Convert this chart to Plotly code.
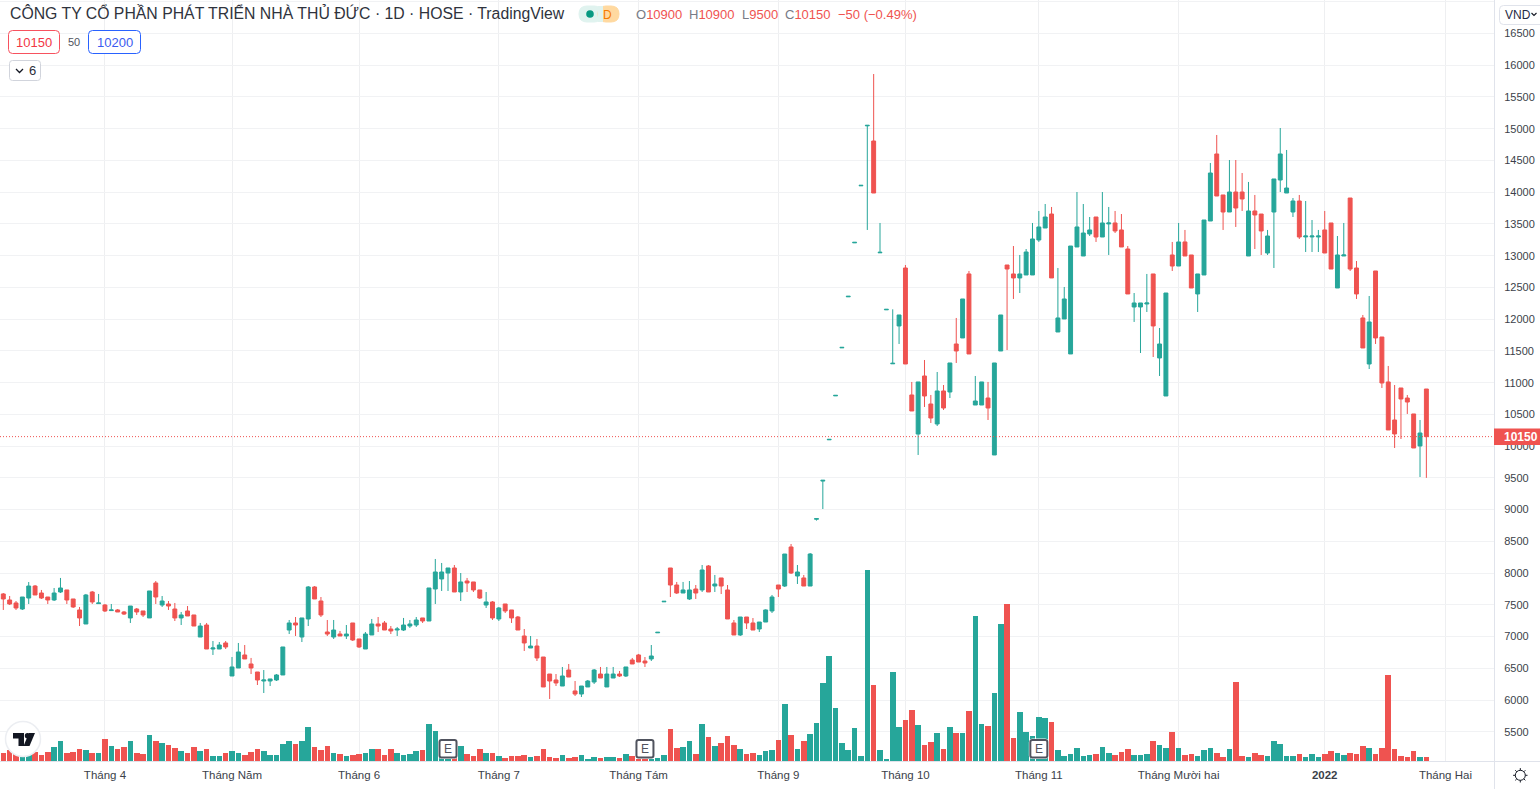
import plotly.graph_objects as go

body_top = [
7672,7577,7530,7624,7797,7797,7687,7624,7687,7766,
7735,7593,7420,7656,7703,7530,7498,7420,7420,7388,
7482,7435,7404,7719,7845,7561,7514,7435,7341,7404,
7341,7167,7183,6821,6868,6900,6522,6758,6711,6569,
6443,6317,6333,6396,6837,7215,7215,7294,7782,7782,
7561,7073,7104,7041,7041,7215,6963,7041,7199,7199,
7215,7120,7120,7183,7199,7262,7294,7766,8018,8018,
8081,8081,7861,7876,7861,7735,7546,7546,7451,7514,
7420,7309,7010,6852,6852,6679,6411,6317,6380,6474,
6144,6222,6301,6474,6411,6411,6411,6411,6522,6632,
6711,6616,6695,7068,7556,8081,7813,7735,7735,7750,
8050,8113,7829,7924,7735,7215,7309,7309,7215,7230,
7420,7624,7813,8301,8412,8018,7924,8301,8858,9462,
10107,10800,11556,12360,13210,14108,15053,14806,13053,12155,
11305,12066,12806,10806,11011,11105,10664,10869,10869,11310,
11609,12318,12712,10711,11011,10758,11310,12066,12853,12712,
12712,13058,13263,13452,13609,13656,12019,12318,13152,13452,
13357,13405,13609,13515,13515,13515,13405,13105,12255,12255,
12255,12712,11609,12412,13011,13216,13216,13011,12712,13562,
14302,14602,13956,14003,14003,14003,13704,13704,13656,13310,
14208,14602,14066,13861,13861,13310,13310,13310,13405,13515,
13011,13011,13908,12806,12019,11956,12759,11719,11011,10412,
10916,10758,10507,10207,10900]

body_bottom = [
7593,7514,7451,7435,7608,7656,7608,7577,7577,7703,
7577,7467,7294,7199,7546,7520,7404,7410,7388,7356,
7294,7388,7341,7294,7624,7498,7482,7294,7294,7325,
7167,6994,6805,6805,6805,6837,6380,6506,6648,6506,
6317,6301,6301,6317,6396,7104,7183,6994,7278,7593,
7341,7041,6994,7010,7010,6947,6837,6805,7026,7167,
7104,7089,7104,7104,7167,7183,7246,7246,7750,7908,
8002,7703,7703,7845,7735,7608,7498,7294,7278,7404,
7294,7104,6900,6821,6664,6207,6301,6270,6222,6364,
6096,6096,6207,6285,6348,6207,6348,6380,6380,6569,
6600,6585,6648,7060,7548,7813,7687,7687,7593,7687,
7735,7703,7797,7797,7278,7026,7026,7215,7104,7120,
7230,7404,7750,7797,8002,7955,7797,7797,8850,9450,
10100,10792,11548,12352,13202,14100,15045,13987,13045,12147,
11297,11893,11294,10554,10191,10790,10443,10349,10601,10853,
11499,11704,11452,10648,10648,10601,9861,11499,12790,12649,
12649,12696,12696,13247,13436,12649,11798,12003,11452,13137,
12995,13342,13294,13294,13500,13389,13137,12397,12192,12192,
12239,11893,11389,10790,12837,12837,12995,12491,12397,12696,
13546,13940,13688,13688,13751,13893,12995,13641,13389,13042,
13688,14192,13987,13688,13294,13295,13295,13295,13042,12790,
12491,12995,12790,12397,11546,11294,11704,10995,10255,10192,
10743,10695,9971,10003,10150]

highs = [
7687,7640,7561,7624,7860,7813,7735,7624,7766,7924,
7735,7593,7467,7672,7719,7672,7514,7514,7435,7404,
7482,7451,7404,7719,7876,7640,7561,7530,7388,7482,
7341,7215,7215,6931,6915,6931,6679,6900,6868,6664,
6443,6474,6333,6411,6837,7262,7309,7294,7797,7797,
7624,7262,7262,7089,7183,7215,6963,7073,7278,7309,
7246,7167,7152,7294,7262,7309,7294,7766,8223,8160,
8081,8128,8002,7924,7861,7735,7703,7561,7467,7514,
7420,7325,7120,7010,6963,6679,6411,6411,6522,6569,
6301,6222,6317,6490,6522,6522,6522,6459,6522,6664,
6727,6679,6868,7068,7556,8081,7861,7861,7876,7813,
8128,8128,7971,7924,7813,7262,7309,7309,7293,7230,
7430,7656,7813,8301,8459,8128,7971,8317,8858,9462,
10107,10800,11556,12360,13210,14108,15053,15861,13515,12155,
12155,12066,12853,11011,11011,11357,10806,11168,10963,11310,
12019,12318,12759,11105,11011,11011,11310,12066,12853,13152,
13011,13105,13515,13704,13814,13767,12806,12507,13152,14003,
13814,13609,13609,14003,13767,13704,13656,13152,12412,12255,
12712,12712,11861,12412,13216,13515,13405,13011,12712,13562,
14460,14901,13956,14507,14507,14302,14161,13956,13656,13405,
14208,15011,14665,13908,13956,13861,13562,13405,13704,13515,
13310,13515,13908,12916,12066,12365,12759,11719,11263,10963,
10916,10806,10507,10412,10900]

lows = [
7420,7498,7420,7420,7514,7656,7593,7514,7561,7687,
7514,7451,7167,7199,7514,7520,7388,7404,7388,7341,
7215,7341,7309,7294,7514,7467,7420,7246,7183,7325,
7167,6994,6805,6711,6805,6805,6380,6506,6648,6411,
6238,6112,6222,6301,6396,7041,7010,6915,7167,7593,
7309,7010,6963,7010,6963,6931,6821,6805,7026,7073,
7104,7041,7010,7089,7136,7152,7215,7246,7514,7719,
7719,7703,7561,7703,7703,7593,7451,7262,7246,7372,
7215,7104,6774,6821,6616,6207,6018,6222,6222,6364,
6065,6049,6207,6254,6348,6207,6348,6364,6364,6569,
6600,6522,6616,7060,7548,7624,7672,7687,7577,7593,
7703,7703,7703,7671,7278,7026,7010,7120,7104,7073,
7230,7372,7624,7782,7986,7829,7797,7797,8827,9010,
10100,10792,11548,12352,13202,14100,13405,13987,13045,12147,
11297,11609,11294,10554,9861,10617,10365,10317,10570,10758,
11310,11704,11452,10648,10648,10412,9861,11499,11514,12318,
12412,12696,12696,13216,13436,12649,11798,12003,11452,13137,
12995,13310,13216,13294,13011,13357,13137,12397,11956,11467,
12113,11404,11105,10790,12759,12837,12995,12491,12113,12696,
13546,13940,13405,13688,13452,13704,12995,13105,13011,13011,
12806,14003,13987,13609,13263,13058,13058,13058,13042,12790,
12491,12995,12759,12318,11546,11215,11609,10916,10255,9971,
10113,10507,9971,9514,9500]

direction = list(
"RRRGGRRRGG"
"RRRGRGRGRR"
"GRRGRGRRGR"
"RGRGGRGGRR"
"RGGGGGRGGR"
"RRGRGRRGGR"
"RRGGGGRGGG"
"GRGRRRGRGR"
"RRRGRRRRGR"
"RGGGRGGRGR"
"RRGGGRRGGR"
"GRGRRRGRRG"
"GGRGRGRGGG"
"GGGGGGGRGG"
"GGRRGRRGRG"
"RGRGGRGGRR"
"GGGGGRGGGG"
"GGRGGRRRGG"
"GRGGRGRRGG"
"GRRGRRGRRG"
"GGGGRGGGRR"
"GGRRRGRRRR"
"RRRGR")

volumes = [
83,113,83,63,83,93,63,93,143,203,
83,93,123,113,83,83,223,153,123,143,
203,83,73,263,203,183,163,133,103,83,
143,103,123,53,53,83,103,83,63,93,
123,103,63,63,173,203,173,203,343,143,
113,153,83,73,53,63,73,83,123,123,
63,123,83,63,73,103,113,373,303,63,
23,30,153,73,53,123,83,83,53,33,
53,53,63,43,53,123,43,33,63,33,
43,63,23,43,33,43,43,33,73,53,
23,23,23,33,60,320,130,140,200,70,
370,240,150,180,250,160,120,70,80,60,
100,110,210,570,260,120,200,270,380,780,
1050,530,180,110,330,50,1910,760,110,20,
890,340,410,510,360,160,190,280,120,340,
280,280,500,1450,370,350,680,1370,1570,230,
490,290,250,440,430,390,110,50,70,130,
50,60,70,140,80,60,90,120,60,60,
70,200,160,130,290,130,60,70,50,110,
130,80,40,120,790,50,40,80,60,50,
200,170,50,50,70,40,70,40,70,100,
80,60,80,70,150,130,70,130,860,120,
50,40,100,40,40]

month_positions = [16, 36, 56, 78, 100, 122, 142, 163, 185, 208, 227]
month_labels = ["Tháng 4", "Tháng Năm", "Tháng 6", "Tháng 7", "Tháng Tám", "Tháng 9",
                "Tháng 10", "Tháng 11", "Tháng Mười hai", "<b>2022</b>", "Tháng Hai"]
price_ticks = list(range(5500, 17001, 500))
earnings_positions = [70, 101, 163]
last_price = 10150
title_text = "CÔNG TY CỔ PHẦN PHÁT TRIỂN NHÀ THỦ ĐỨC · 1D · HOSE · TradingView"

RED = "#ef5350"
TEAL = "#26a69a"
GRID = "#f1f2f4"
BORDER = "#e0e3eb"
TEXT = "#3b3f4a"
FONT = "Liberation Sans"

W, H = 1540, 789
PW, PH = 1494, 761
X_SPACING, X_START = 6.353, 3.3


def px(x):
    return x / PW


def py(y):
    return 1 - y / PH


opens = [b if d == "G" else t for t, b, d in zip(body_top, body_bottom, direction)]
closes = [t if d == "G" else b for t, b, d in zip(body_top, body_bottom, direction)]
xs = list(range(len(opens)))
vol_colors = [TEAL if d == "G" else RED for d in direction]

fig = go.Figure()
fig.add_trace(go.Bar(x=xs, y=volumes, yaxis="y2", width=0.88, marker=dict(color=vol_colors, line_width=0),
                     hoverinfo="skip", showlegend=False))
fig.add_trace(go.Candlestick(x=xs, open=opens, high=highs, low=lows, close=closes, whiskerwidth=0,
                             increasing=dict(line=dict(color=TEAL, width=1), fillcolor=TEAL),
                             decreasing=dict(line=dict(color=RED, width=1), fillcolor=RED),
                             showlegend=False))


def rrect(x0, y0, x1, y1, r):
    X0, X1 = px(x0), px(x1)
    Y0, Y1 = py(y0), py(y1)
    dx, dy = r / PW, r / PH
    return (f"M {X0+dx} {Y0} L {X1-dx} {Y0} Q {X1} {Y0} {X1} {Y0-dy} L {X1} {Y1+dy} "
            f"Q {X1} {Y1} {X1-dx} {Y1} L {X0+dx} {Y1} Q {X0} {Y1} {X0} {Y1+dy} "
            f"L {X0} {Y0-dy} Q {X0} {Y0} {X0+dx} {Y0} Z")


def poly(points, close=True):
    s = " ".join(("M" if i == 0 else "L") + f" {px(x)} {py(y)}" for i, (x, y) in enumerate(points))
    return s + (" Z" if close else "")


def paper_shape(**kw):
    return dict(xref="paper", yref="paper", **kw)


def box(x0, y0, x1, y1, r, line, fill="white", width=1):
    return paper_shape(type="path", path=rrect(x0, y0, x1, y1, r), fillcolor=fill,
                       line=dict(color=line, width=width))


def seg(x0, y0, x1, y1, color, width=1):
    return paper_shape(type="line", x0=px(x0), y0=py(y0), x1=px(x1), y1=py(y1),
                       line=dict(color=color, width=width))


def circ(cx, cy, r, fill, line="rgba(0,0,0,0)", width=0):
    return paper_shape(type="circle", x0=px(cx - r), x1=px(cx + r), y0=py(cy - r), y1=py(cy + r),
                       fillcolor=fill, line=dict(color=line, width=width))


def note(x, y, text, size=12, color=TEXT, anchor="left"):
    return dict(xref="paper", yref="paper", x=px(x), y=py(y), xanchor=anchor, yanchor="middle", text=text,
                showarrow=False, font=dict(family=FONT, size=size, color=color), borderpad=0)


shapes = [
    # current price line
    dict(type="line", xref="paper", yref="y", x0=0, x1=1, y0=last_price, y1=last_price,
         line=dict(color=RED, width=1, dash="1px,2px")),
    # axes separators
    seg(PW + 0.5, 0, PW + 0.5, H, BORDER),
    seg(0, PH + 0.5, W, PH + 0.5, BORDER),
    # price label
    paper_shape(type="rect", x0=px(1494), x1=px(1540), y0=py(428.5), y1=py(445), fillcolor=RED, line_width=0),
    # VND button
    box(1499.5, 5.5, 1546, 24.5, 4, BORDER),
    paper_shape(type="path", path=poly([(1531.5, 13), (1534, 15.5), (1536.5, 13)], close=False),
                line=dict(color="#131722", width=1.1)),
    # status pill
    box(579, 6, 602, 22, 8, "#e0f3ef", fill="#e0f3ef"),
    box(598, 6, 619, 22, 8, "#ffd9a0", fill="#ffd9a0"),
    paper_shape(type="rect", x0=px(598), x1=px(603), y0=py(6), y1=py(22), fillcolor="#e0f3ef", line_width=0),
    circ(590, 14, 3.8, "#089981"),
    # last/spread/ask boxes
    box(8.5, 30.5, 59.5, 53.5, 4, "#f7525f"),
    box(88.5, 30.5, 140.5, 53.5, 4, "#2962ff"),
    # collapsed indicators button
    box(9.5, 60.5, 40.5, 80.5, 3, "#d1d4dc"),
    paper_shape(type="path", path=poly([(16, 69), (19.5, 72.5), (23, 69)], close=False),
                line=dict(color="#131722", width=1.3)),
    # TradingView badge
    circ(23, 739, 17.5, "white", line="#eceef2", width=1.5),
    paper_shape(type="path", path=poly([(13, 733), (24, 733), (24, 746), (18.5, 746), (18.5, 738.5), (13, 738.5)]),
                fillcolor="#131722", line_width=0),
    circ(27.5, 735.8, 2.7, "#131722"),
    paper_shape(type="path", path=poly([(29, 733), (35, 733), (29.5, 746), (23.5, 746)]),
                fillcolor="#131722", line_width=0),
    # settings icon
    circ(1520.3, 775.3, 5, "white", line="#131722", width=1),
]
for dx, dy in [(0, -1), (0, 1), (-1, 0), (1, 0), (.7, .7), (-.7, .7), (.7, -.7), (-.7, -.7)]:
    shapes.append(seg(1520.3 + dx * 5, 775.3 + dy * 5, 1520.3 + dx * 7.2, 775.3 + dy * 7.2, "#131722"))
for i in earnings_positions:
    cx = X_START + X_SPACING * i
    shapes.append(box(cx - 9.5, 739, cx + 9.5, 758.5, 3, "white", fill="white", width=1))
    shapes.append(box(cx - 8.5, 740, cx + 8.5, 757.5, 2, "#50535e", fill="white", width=2))

annotations = [
    note(9, 13.5, title_text, size=15.8, color="#2f333d"),
    note(607.5, 14.5, "D", size=12, color="#f57c00", anchor="center"),
    note(34.2, 42.5, "10150", size=13, color="#f23645", anchor="center"),
    note(74, 42.5, "50", size=11, color="#50535e", anchor="center"),
    note(114.5, 42.5, "10200", size=13, color="#3a5bf0", anchor="center"),
    note(32.5, 70.5, "6", size=13, color="#2a2e39", anchor="center"),
    note(1504, 14.5, "VND", size=12, color="#1f2a44"),
    note(1520.5, 436.7, "<b>10150</b>", size=12, color="white", anchor="center"),
]
for x, label, value in [(635.3, "O", "10900"), (688.3, "H", "10900"), (741, "L", "9500"), (784, "C", "10150")]:
    annotations.append(note(x, 15, f"<span style='color:#787b86'>{label}</span>{value}", size=13, color=RED))
annotations.append(note(836.7, 15, "−50 (−0.49%)", size=13, color=RED))
for i in earnings_positions:
    annotations.append(note(X_START + X_SPACING * i, 748.7, "E", size=12, color="#50535e", anchor="center"))

fig.update_layout(
    width=W, height=H, autosize=False,
    margin=dict(l=0, r=W - PW, t=0, b=H - PH, pad=0, autoexpand=False),
    paper_bgcolor="white", plot_bgcolor="white",
    boxgap=0.12, showlegend=False, bargap=0,
    font=dict(family=FONT, size=12, color=TEXT),
    xaxis=dict(range=[-X_START / X_SPACING, (PW - X_START) / X_SPACING], rangeslider=dict(visible=False),
               tickmode="array", tickvals=month_positions, ticktext=month_labels,
               showgrid=True, gridcolor="#eeeff1", gridwidth=1, zeroline=False, showline=False,
               ticks="outside", ticklen=3, tickcolor="rgba(0,0,0,0)",
               tickfont=dict(family=FONT, size=11.5, color=TEXT)),
    yaxis=dict(side="right", range=[5041, 17027], tickmode="array", tickvals=price_ticks,
               showgrid=True, gridcolor=GRID, gridwidth=1, zeroline=False, showline=False,
               ticks="outside", ticklen=7, tickcolor="rgba(0,0,0,0)",
               tickfont=dict(family=FONT, size=11, color=TEXT), tickformat="d"),
    yaxis2=dict(overlaying="y", range=[0, 7610], visible=False, fixedrange=True),
    shapes=shapes, annotations=annotations,
)

fig.write_html("out.html", config={"displayModeBar": False},
               post_script="document.body.style.margin='0';document.body.style.overflow='hidden';")
